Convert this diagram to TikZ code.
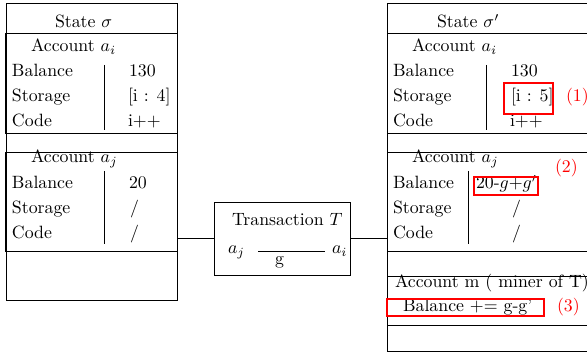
\documentclass[tikz,border=0pt]{standalone}
\newdimen\pu \pu=0.5618pt
\tikzset{
  frame/.style={draw, line width=0.5pt, inner sep=0pt, outer sep=0pt, anchor=north west},
  ln/.style={line width=0.5pt},
  hl/.style={draw=red, line width=0.6pt},
  txt/.style={anchor=base west, inner sep=0pt, outer sep=0pt},
  note/.style={txt, text=red}
}
\begin{document}
\begin{tikzpicture}[x=0.5618pt,y=-0.5618pt]
\useasboundingbox (0,0) rectangle (587,354);
\clip (0,0) rectangle (587,354);
% left state
\node[frame, minimum width={171*\pu}, minimum height={297*\pu}] (S1) at (6,3) {};
\node[frame, minimum width={172*\pu}, minimum height={100*\pu}] (A1i) at (5,33) {};
\node[frame, minimum width={172*\pu}, minimum height={99*\pu}] (A1j) at (5,152) {};
\node[txt] (t1) at (55,28) {State $\sigma$};
\node[txt] (l1) at (31,52) {Account $a_i$};
\node[txt] (l2) at (12,77) {Balance};
\node[txt] (l3) at (12,102) {Storage};
\node[txt] (l4) at (12,127) {Code};
\node[txt] (v1) at (129,77) {130};
\node[txt] (v2) at (128,102) {[i : 4]};
\node[txt] (v3) at (128,127) {i++};
\draw[ln] (104,65) -- (104,130);
\node[txt] (l5) at (31,163) {Account $a_j$};
\node[txt] (l6) at (12,189) {Balance};
\node[txt] (l7) at (12,214) {Storage};
\node[txt] (l8) at (12,239) {Code};
\node[txt] (v4) at (129,189) {20};
\node[txt] (v5) at (130,214) {/};
\node[txt] (v6) at (130,239) {/};
\draw[ln] (104,171) -- (104,244);
% transaction
\node[frame, minimum width={136*\pu}, minimum height={73*\pu}] (T) at (214,202) {};
\node[txt] (tt) at (232,226) {Transaction $T$};
\node[txt] (ta) at (228,254) {$a_j$};
\node[txt] (tb) at (332,254) {$a_i$};
\node[txt] (tg) at (275,265) {g};
\draw[ln] (258,251) -- (325,251);
% right state
\node[frame, minimum width={213*\pu}, minimum height={348*\pu}] (S2) at (387,3) {};
\node[frame, minimum width={213*\pu}, minimum height={100*\pu}] (A2i) at (387,33) {};
\node[frame, minimum width={213*\pu}, minimum height={99*\pu}] (A2j) at (387,152) {};
\node[frame, minimum width={213*\pu}, minimum height={49*\pu}] (A2m) at (387,276) {};
\node[txt] (t2) at (437,28) {State $\sigma'$};
\node[txt] (r1) at (412,52) {Account $a_i$};
\node[txt] (r2) at (393,77) {Balance};
\node[txt] (r3) at (393,102) {Storage};
\node[txt] (r4) at (393,127) {Code};
\node[txt] (w1) at (511,77) {130};
\node[txt] (w2) at (511,102) {[i : 5]};
\node[txt] (w3) at (510,127) {i++};
\draw[ln] (486,65) -- (486,130);
\draw[hl] (504,83) rectangle (553,114);
\node[note] (n1) at (566,102) {(1)};
\node[txt] (r5) at (412,163) {Account $a_j$};
\node[note] (n2) at (555,173) {(2)};
\node[txt] (r6) at (393,189) {Balance};
\node[txt] (r7) at (393,214) {Storage};
\node[txt] (r8) at (393,239) {Code};
\node[txt] (w4) at (476,189) {20-$g$+$g'$};
\draw[hl] (474,177) rectangle (538,195);
\node[txt] (w5) at (512,214) {/};
\node[txt] (w6) at (512,239) {/};
\draw[ln] (468,171) -- (468,244);
\node[txt] (r9) at (395,288) {Account m ( miner of T)};
\node[txt] (r10) at (403,312) {Balance += g-g'};
\draw[hl] (387,299) rectangle (544,316);
\node[note] (n3) at (557,312) {(3)};
% connectors
\draw[ln] (T.west) -- (T.west -| S1.east);
\draw[ln] (T.east) -- (T.east -| S2.west);
\end{tikzpicture}
\end{document}
